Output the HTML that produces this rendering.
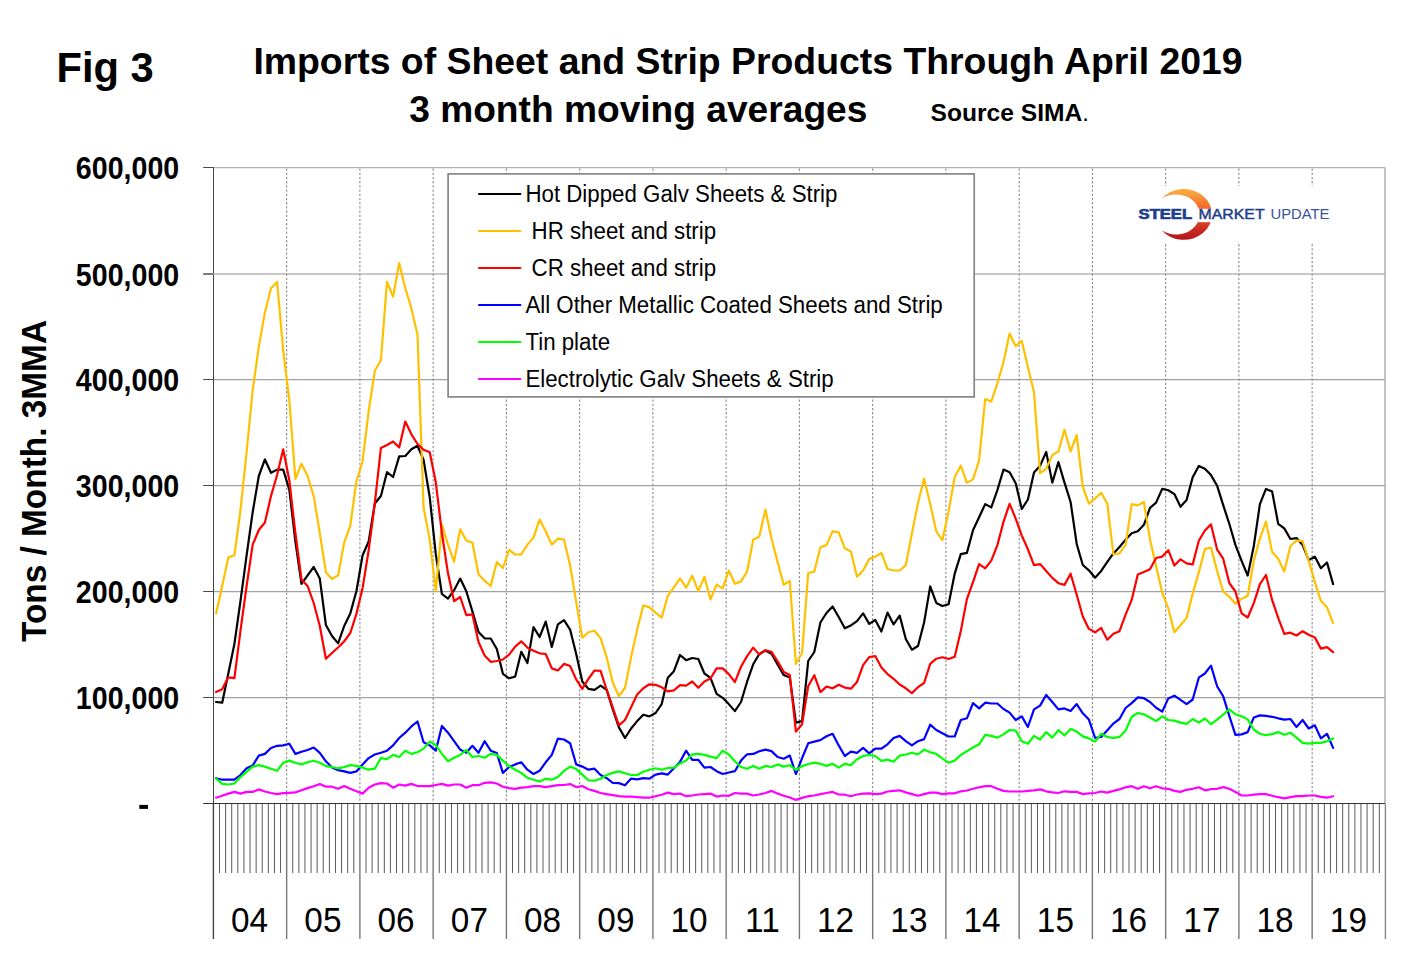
<!DOCTYPE html><html><head><meta charset="utf-8"><title>Fig 3</title><style>html,body{margin:0;padding:0;background:#fff}body{width:1420px;height:969px;overflow:hidden;font-family:"Liberation Sans",sans-serif}svg{display:block}</style></head><body>
<svg width="1420" height="969" viewBox="0 0 1420 969">
<rect width="1420" height="969" fill="#fff"/>
<line x1="213.0" y1="167.5" x2="1385.0" y2="167.5" stroke="#b2b2b2" stroke-width="1.25"/>
<line x1="213.0" y1="274.0" x2="1385.0" y2="274.0" stroke="#c8c8c8" stroke-width="2"/>
<line x1="213.0" y1="379.5" x2="1385.0" y2="379.5" stroke="#a2a2a2" stroke-width="1.25"/>
<line x1="213.0" y1="485.5" x2="1385.0" y2="485.5" stroke="#a2a2a2" stroke-width="1.25"/>
<line x1="213.0" y1="591.5" x2="1385.0" y2="591.5" stroke="#a2a2a2" stroke-width="1.25"/>
<line x1="213.0" y1="697.5" x2="1385.0" y2="697.5" stroke="#a2a2a2" stroke-width="1.25"/>
<line x1="286.65" y1="168.5" x2="286.65" y2="803.5" stroke="#858585" stroke-width="1.05" stroke-dasharray="2.3 1.9"/>
<line x1="359.90" y1="168.5" x2="359.90" y2="803.5" stroke="#858585" stroke-width="1.05" stroke-dasharray="2.3 1.9"/>
<line x1="433.15" y1="168.5" x2="433.15" y2="803.5" stroke="#858585" stroke-width="1.05" stroke-dasharray="2.3 1.9"/>
<line x1="506.40" y1="168.5" x2="506.40" y2="803.5" stroke="#858585" stroke-width="1.05" stroke-dasharray="2.3 1.9"/>
<line x1="579.65" y1="168.5" x2="579.65" y2="803.5" stroke="#858585" stroke-width="1.05" stroke-dasharray="2.3 1.9"/>
<line x1="652.90" y1="168.5" x2="652.90" y2="803.5" stroke="#858585" stroke-width="1.05" stroke-dasharray="2.3 1.9"/>
<line x1="726.15" y1="168.5" x2="726.15" y2="803.5" stroke="#858585" stroke-width="1.05" stroke-dasharray="2.3 1.9"/>
<line x1="799.40" y1="168.5" x2="799.40" y2="803.5" stroke="#858585" stroke-width="1.05" stroke-dasharray="2.3 1.9"/>
<line x1="872.65" y1="168.5" x2="872.65" y2="803.5" stroke="#858585" stroke-width="1.05" stroke-dasharray="2.3 1.9"/>
<line x1="945.90" y1="168.5" x2="945.90" y2="803.5" stroke="#858585" stroke-width="1.05" stroke-dasharray="2.3 1.9"/>
<line x1="1019.15" y1="168.5" x2="1019.15" y2="803.5" stroke="#858585" stroke-width="1.05" stroke-dasharray="2.3 1.9"/>
<line x1="1092.40" y1="168.5" x2="1092.40" y2="803.5" stroke="#858585" stroke-width="1.05" stroke-dasharray="2.3 1.9"/>
<line x1="1165.65" y1="168.5" x2="1165.65" y2="803.5" stroke="#858585" stroke-width="1.05" stroke-dasharray="2.3 1.9"/>
<line x1="1238.90" y1="168.5" x2="1238.90" y2="803.5" stroke="#858585" stroke-width="1.05" stroke-dasharray="2.3 1.9"/>
<line x1="1312.15" y1="168.5" x2="1312.15" y2="803.5" stroke="#858585" stroke-width="1.05" stroke-dasharray="2.3 1.9"/>
<line x1="1385.0" y1="167.5" x2="1385.0" y2="803.5" stroke="#b4b4b4" stroke-width="1.6"/>
<line x1="219.50" y1="803.5" x2="219.50" y2="873" stroke="#5a5a5a" stroke-width="1"/>
<line x1="225.61" y1="803.5" x2="225.61" y2="873" stroke="#5a5a5a" stroke-width="1"/>
<line x1="231.71" y1="803.5" x2="231.71" y2="873" stroke="#5a5a5a" stroke-width="1"/>
<line x1="237.82" y1="803.5" x2="237.82" y2="873" stroke="#5a5a5a" stroke-width="1"/>
<line x1="243.92" y1="803.5" x2="243.92" y2="873" stroke="#5a5a5a" stroke-width="1"/>
<line x1="250.03" y1="803.5" x2="250.03" y2="873" stroke="#5a5a5a" stroke-width="1"/>
<line x1="256.13" y1="803.5" x2="256.13" y2="873" stroke="#5a5a5a" stroke-width="1"/>
<line x1="262.23" y1="803.5" x2="262.23" y2="873" stroke="#5a5a5a" stroke-width="1"/>
<line x1="268.34" y1="803.5" x2="268.34" y2="873" stroke="#5a5a5a" stroke-width="1"/>
<line x1="274.44" y1="803.5" x2="274.44" y2="873" stroke="#5a5a5a" stroke-width="1"/>
<line x1="280.55" y1="803.5" x2="280.55" y2="873" stroke="#5a5a5a" stroke-width="1"/>
<line x1="292.75" y1="803.5" x2="292.75" y2="873" stroke="#5a5a5a" stroke-width="1"/>
<line x1="298.86" y1="803.5" x2="298.86" y2="873" stroke="#5a5a5a" stroke-width="1"/>
<line x1="304.96" y1="803.5" x2="304.96" y2="873" stroke="#5a5a5a" stroke-width="1"/>
<line x1="311.07" y1="803.5" x2="311.07" y2="873" stroke="#5a5a5a" stroke-width="1"/>
<line x1="317.17" y1="803.5" x2="317.17" y2="873" stroke="#5a5a5a" stroke-width="1"/>
<line x1="323.27" y1="803.5" x2="323.27" y2="873" stroke="#5a5a5a" stroke-width="1"/>
<line x1="329.38" y1="803.5" x2="329.38" y2="873" stroke="#5a5a5a" stroke-width="1"/>
<line x1="335.48" y1="803.5" x2="335.48" y2="873" stroke="#5a5a5a" stroke-width="1"/>
<line x1="341.59" y1="803.5" x2="341.59" y2="873" stroke="#5a5a5a" stroke-width="1"/>
<line x1="347.69" y1="803.5" x2="347.69" y2="873" stroke="#5a5a5a" stroke-width="1"/>
<line x1="353.80" y1="803.5" x2="353.80" y2="873" stroke="#5a5a5a" stroke-width="1"/>
<line x1="366.00" y1="803.5" x2="366.00" y2="873" stroke="#5a5a5a" stroke-width="1"/>
<line x1="372.11" y1="803.5" x2="372.11" y2="873" stroke="#5a5a5a" stroke-width="1"/>
<line x1="378.21" y1="803.5" x2="378.21" y2="873" stroke="#5a5a5a" stroke-width="1"/>
<line x1="384.32" y1="803.5" x2="384.32" y2="873" stroke="#5a5a5a" stroke-width="1"/>
<line x1="390.42" y1="803.5" x2="390.42" y2="873" stroke="#5a5a5a" stroke-width="1"/>
<line x1="396.52" y1="803.5" x2="396.52" y2="873" stroke="#5a5a5a" stroke-width="1"/>
<line x1="402.63" y1="803.5" x2="402.63" y2="873" stroke="#5a5a5a" stroke-width="1"/>
<line x1="408.73" y1="803.5" x2="408.73" y2="873" stroke="#5a5a5a" stroke-width="1"/>
<line x1="414.84" y1="803.5" x2="414.84" y2="873" stroke="#5a5a5a" stroke-width="1"/>
<line x1="420.94" y1="803.5" x2="420.94" y2="873" stroke="#5a5a5a" stroke-width="1"/>
<line x1="427.05" y1="803.5" x2="427.05" y2="873" stroke="#5a5a5a" stroke-width="1"/>
<line x1="439.25" y1="803.5" x2="439.25" y2="873" stroke="#5a5a5a" stroke-width="1"/>
<line x1="445.36" y1="803.5" x2="445.36" y2="873" stroke="#5a5a5a" stroke-width="1"/>
<line x1="451.46" y1="803.5" x2="451.46" y2="873" stroke="#5a5a5a" stroke-width="1"/>
<line x1="457.57" y1="803.5" x2="457.57" y2="873" stroke="#5a5a5a" stroke-width="1"/>
<line x1="463.67" y1="803.5" x2="463.67" y2="873" stroke="#5a5a5a" stroke-width="1"/>
<line x1="469.77" y1="803.5" x2="469.77" y2="873" stroke="#5a5a5a" stroke-width="1"/>
<line x1="475.88" y1="803.5" x2="475.88" y2="873" stroke="#5a5a5a" stroke-width="1"/>
<line x1="481.98" y1="803.5" x2="481.98" y2="873" stroke="#5a5a5a" stroke-width="1"/>
<line x1="488.09" y1="803.5" x2="488.09" y2="873" stroke="#5a5a5a" stroke-width="1"/>
<line x1="494.19" y1="803.5" x2="494.19" y2="873" stroke="#5a5a5a" stroke-width="1"/>
<line x1="500.30" y1="803.5" x2="500.30" y2="873" stroke="#5a5a5a" stroke-width="1"/>
<line x1="512.50" y1="803.5" x2="512.50" y2="873" stroke="#5a5a5a" stroke-width="1"/>
<line x1="518.61" y1="803.5" x2="518.61" y2="873" stroke="#5a5a5a" stroke-width="1"/>
<line x1="524.71" y1="803.5" x2="524.71" y2="873" stroke="#5a5a5a" stroke-width="1"/>
<line x1="530.82" y1="803.5" x2="530.82" y2="873" stroke="#5a5a5a" stroke-width="1"/>
<line x1="536.92" y1="803.5" x2="536.92" y2="873" stroke="#5a5a5a" stroke-width="1"/>
<line x1="543.02" y1="803.5" x2="543.02" y2="873" stroke="#5a5a5a" stroke-width="1"/>
<line x1="549.13" y1="803.5" x2="549.13" y2="873" stroke="#5a5a5a" stroke-width="1"/>
<line x1="555.23" y1="803.5" x2="555.23" y2="873" stroke="#5a5a5a" stroke-width="1"/>
<line x1="561.34" y1="803.5" x2="561.34" y2="873" stroke="#5a5a5a" stroke-width="1"/>
<line x1="567.44" y1="803.5" x2="567.44" y2="873" stroke="#5a5a5a" stroke-width="1"/>
<line x1="573.55" y1="803.5" x2="573.55" y2="873" stroke="#5a5a5a" stroke-width="1"/>
<line x1="585.75" y1="803.5" x2="585.75" y2="873" stroke="#5a5a5a" stroke-width="1"/>
<line x1="591.86" y1="803.5" x2="591.86" y2="873" stroke="#5a5a5a" stroke-width="1"/>
<line x1="597.96" y1="803.5" x2="597.96" y2="873" stroke="#5a5a5a" stroke-width="1"/>
<line x1="604.07" y1="803.5" x2="604.07" y2="873" stroke="#5a5a5a" stroke-width="1"/>
<line x1="610.17" y1="803.5" x2="610.17" y2="873" stroke="#5a5a5a" stroke-width="1"/>
<line x1="616.27" y1="803.5" x2="616.27" y2="873" stroke="#5a5a5a" stroke-width="1"/>
<line x1="622.38" y1="803.5" x2="622.38" y2="873" stroke="#5a5a5a" stroke-width="1"/>
<line x1="628.48" y1="803.5" x2="628.48" y2="873" stroke="#5a5a5a" stroke-width="1"/>
<line x1="634.59" y1="803.5" x2="634.59" y2="873" stroke="#5a5a5a" stroke-width="1"/>
<line x1="640.69" y1="803.5" x2="640.69" y2="873" stroke="#5a5a5a" stroke-width="1"/>
<line x1="646.80" y1="803.5" x2="646.80" y2="873" stroke="#5a5a5a" stroke-width="1"/>
<line x1="659.00" y1="803.5" x2="659.00" y2="873" stroke="#5a5a5a" stroke-width="1"/>
<line x1="665.11" y1="803.5" x2="665.11" y2="873" stroke="#5a5a5a" stroke-width="1"/>
<line x1="671.21" y1="803.5" x2="671.21" y2="873" stroke="#5a5a5a" stroke-width="1"/>
<line x1="677.32" y1="803.5" x2="677.32" y2="873" stroke="#5a5a5a" stroke-width="1"/>
<line x1="683.42" y1="803.5" x2="683.42" y2="873" stroke="#5a5a5a" stroke-width="1"/>
<line x1="689.52" y1="803.5" x2="689.52" y2="873" stroke="#5a5a5a" stroke-width="1"/>
<line x1="695.63" y1="803.5" x2="695.63" y2="873" stroke="#5a5a5a" stroke-width="1"/>
<line x1="701.73" y1="803.5" x2="701.73" y2="873" stroke="#5a5a5a" stroke-width="1"/>
<line x1="707.84" y1="803.5" x2="707.84" y2="873" stroke="#5a5a5a" stroke-width="1"/>
<line x1="713.94" y1="803.5" x2="713.94" y2="873" stroke="#5a5a5a" stroke-width="1"/>
<line x1="720.05" y1="803.5" x2="720.05" y2="873" stroke="#5a5a5a" stroke-width="1"/>
<line x1="732.25" y1="803.5" x2="732.25" y2="873" stroke="#5a5a5a" stroke-width="1"/>
<line x1="738.36" y1="803.5" x2="738.36" y2="873" stroke="#5a5a5a" stroke-width="1"/>
<line x1="744.46" y1="803.5" x2="744.46" y2="873" stroke="#5a5a5a" stroke-width="1"/>
<line x1="750.57" y1="803.5" x2="750.57" y2="873" stroke="#5a5a5a" stroke-width="1"/>
<line x1="756.67" y1="803.5" x2="756.67" y2="873" stroke="#5a5a5a" stroke-width="1"/>
<line x1="762.77" y1="803.5" x2="762.77" y2="873" stroke="#5a5a5a" stroke-width="1"/>
<line x1="768.88" y1="803.5" x2="768.88" y2="873" stroke="#5a5a5a" stroke-width="1"/>
<line x1="774.98" y1="803.5" x2="774.98" y2="873" stroke="#5a5a5a" stroke-width="1"/>
<line x1="781.09" y1="803.5" x2="781.09" y2="873" stroke="#5a5a5a" stroke-width="1"/>
<line x1="787.19" y1="803.5" x2="787.19" y2="873" stroke="#5a5a5a" stroke-width="1"/>
<line x1="793.30" y1="803.5" x2="793.30" y2="873" stroke="#5a5a5a" stroke-width="1"/>
<line x1="805.50" y1="803.5" x2="805.50" y2="873" stroke="#5a5a5a" stroke-width="1"/>
<line x1="811.61" y1="803.5" x2="811.61" y2="873" stroke="#5a5a5a" stroke-width="1"/>
<line x1="817.71" y1="803.5" x2="817.71" y2="873" stroke="#5a5a5a" stroke-width="1"/>
<line x1="823.82" y1="803.5" x2="823.82" y2="873" stroke="#5a5a5a" stroke-width="1"/>
<line x1="829.92" y1="803.5" x2="829.92" y2="873" stroke="#5a5a5a" stroke-width="1"/>
<line x1="836.02" y1="803.5" x2="836.02" y2="873" stroke="#5a5a5a" stroke-width="1"/>
<line x1="842.13" y1="803.5" x2="842.13" y2="873" stroke="#5a5a5a" stroke-width="1"/>
<line x1="848.23" y1="803.5" x2="848.23" y2="873" stroke="#5a5a5a" stroke-width="1"/>
<line x1="854.34" y1="803.5" x2="854.34" y2="873" stroke="#5a5a5a" stroke-width="1"/>
<line x1="860.44" y1="803.5" x2="860.44" y2="873" stroke="#5a5a5a" stroke-width="1"/>
<line x1="866.55" y1="803.5" x2="866.55" y2="873" stroke="#5a5a5a" stroke-width="1"/>
<line x1="878.75" y1="803.5" x2="878.75" y2="873" stroke="#5a5a5a" stroke-width="1"/>
<line x1="884.86" y1="803.5" x2="884.86" y2="873" stroke="#5a5a5a" stroke-width="1"/>
<line x1="890.96" y1="803.5" x2="890.96" y2="873" stroke="#5a5a5a" stroke-width="1"/>
<line x1="897.07" y1="803.5" x2="897.07" y2="873" stroke="#5a5a5a" stroke-width="1"/>
<line x1="903.17" y1="803.5" x2="903.17" y2="873" stroke="#5a5a5a" stroke-width="1"/>
<line x1="909.27" y1="803.5" x2="909.27" y2="873" stroke="#5a5a5a" stroke-width="1"/>
<line x1="915.38" y1="803.5" x2="915.38" y2="873" stroke="#5a5a5a" stroke-width="1"/>
<line x1="921.48" y1="803.5" x2="921.48" y2="873" stroke="#5a5a5a" stroke-width="1"/>
<line x1="927.59" y1="803.5" x2="927.59" y2="873" stroke="#5a5a5a" stroke-width="1"/>
<line x1="933.69" y1="803.5" x2="933.69" y2="873" stroke="#5a5a5a" stroke-width="1"/>
<line x1="939.80" y1="803.5" x2="939.80" y2="873" stroke="#5a5a5a" stroke-width="1"/>
<line x1="952.00" y1="803.5" x2="952.00" y2="873" stroke="#5a5a5a" stroke-width="1"/>
<line x1="958.11" y1="803.5" x2="958.11" y2="873" stroke="#5a5a5a" stroke-width="1"/>
<line x1="964.21" y1="803.5" x2="964.21" y2="873" stroke="#5a5a5a" stroke-width="1"/>
<line x1="970.32" y1="803.5" x2="970.32" y2="873" stroke="#5a5a5a" stroke-width="1"/>
<line x1="976.42" y1="803.5" x2="976.42" y2="873" stroke="#5a5a5a" stroke-width="1"/>
<line x1="982.52" y1="803.5" x2="982.52" y2="873" stroke="#5a5a5a" stroke-width="1"/>
<line x1="988.63" y1="803.5" x2="988.63" y2="873" stroke="#5a5a5a" stroke-width="1"/>
<line x1="994.73" y1="803.5" x2="994.73" y2="873" stroke="#5a5a5a" stroke-width="1"/>
<line x1="1000.84" y1="803.5" x2="1000.84" y2="873" stroke="#5a5a5a" stroke-width="1"/>
<line x1="1006.94" y1="803.5" x2="1006.94" y2="873" stroke="#5a5a5a" stroke-width="1"/>
<line x1="1013.05" y1="803.5" x2="1013.05" y2="873" stroke="#5a5a5a" stroke-width="1"/>
<line x1="1025.25" y1="803.5" x2="1025.25" y2="873" stroke="#5a5a5a" stroke-width="1"/>
<line x1="1031.36" y1="803.5" x2="1031.36" y2="873" stroke="#5a5a5a" stroke-width="1"/>
<line x1="1037.46" y1="803.5" x2="1037.46" y2="873" stroke="#5a5a5a" stroke-width="1"/>
<line x1="1043.57" y1="803.5" x2="1043.57" y2="873" stroke="#5a5a5a" stroke-width="1"/>
<line x1="1049.67" y1="803.5" x2="1049.67" y2="873" stroke="#5a5a5a" stroke-width="1"/>
<line x1="1055.78" y1="803.5" x2="1055.78" y2="873" stroke="#5a5a5a" stroke-width="1"/>
<line x1="1061.88" y1="803.5" x2="1061.88" y2="873" stroke="#5a5a5a" stroke-width="1"/>
<line x1="1067.98" y1="803.5" x2="1067.98" y2="873" stroke="#5a5a5a" stroke-width="1"/>
<line x1="1074.09" y1="803.5" x2="1074.09" y2="873" stroke="#5a5a5a" stroke-width="1"/>
<line x1="1080.19" y1="803.5" x2="1080.19" y2="873" stroke="#5a5a5a" stroke-width="1"/>
<line x1="1086.30" y1="803.5" x2="1086.30" y2="873" stroke="#5a5a5a" stroke-width="1"/>
<line x1="1098.50" y1="803.5" x2="1098.50" y2="873" stroke="#5a5a5a" stroke-width="1"/>
<line x1="1104.61" y1="803.5" x2="1104.61" y2="873" stroke="#5a5a5a" stroke-width="1"/>
<line x1="1110.71" y1="803.5" x2="1110.71" y2="873" stroke="#5a5a5a" stroke-width="1"/>
<line x1="1116.82" y1="803.5" x2="1116.82" y2="873" stroke="#5a5a5a" stroke-width="1"/>
<line x1="1122.92" y1="803.5" x2="1122.92" y2="873" stroke="#5a5a5a" stroke-width="1"/>
<line x1="1129.03" y1="803.5" x2="1129.03" y2="873" stroke="#5a5a5a" stroke-width="1"/>
<line x1="1135.13" y1="803.5" x2="1135.13" y2="873" stroke="#5a5a5a" stroke-width="1"/>
<line x1="1141.23" y1="803.5" x2="1141.23" y2="873" stroke="#5a5a5a" stroke-width="1"/>
<line x1="1147.34" y1="803.5" x2="1147.34" y2="873" stroke="#5a5a5a" stroke-width="1"/>
<line x1="1153.44" y1="803.5" x2="1153.44" y2="873" stroke="#5a5a5a" stroke-width="1"/>
<line x1="1159.55" y1="803.5" x2="1159.55" y2="873" stroke="#5a5a5a" stroke-width="1"/>
<line x1="1171.75" y1="803.5" x2="1171.75" y2="873" stroke="#5a5a5a" stroke-width="1"/>
<line x1="1177.86" y1="803.5" x2="1177.86" y2="873" stroke="#5a5a5a" stroke-width="1"/>
<line x1="1183.96" y1="803.5" x2="1183.96" y2="873" stroke="#5a5a5a" stroke-width="1"/>
<line x1="1190.07" y1="803.5" x2="1190.07" y2="873" stroke="#5a5a5a" stroke-width="1"/>
<line x1="1196.17" y1="803.5" x2="1196.17" y2="873" stroke="#5a5a5a" stroke-width="1"/>
<line x1="1202.28" y1="803.5" x2="1202.28" y2="873" stroke="#5a5a5a" stroke-width="1"/>
<line x1="1208.38" y1="803.5" x2="1208.38" y2="873" stroke="#5a5a5a" stroke-width="1"/>
<line x1="1214.48" y1="803.5" x2="1214.48" y2="873" stroke="#5a5a5a" stroke-width="1"/>
<line x1="1220.59" y1="803.5" x2="1220.59" y2="873" stroke="#5a5a5a" stroke-width="1"/>
<line x1="1226.69" y1="803.5" x2="1226.69" y2="873" stroke="#5a5a5a" stroke-width="1"/>
<line x1="1232.80" y1="803.5" x2="1232.80" y2="873" stroke="#5a5a5a" stroke-width="1"/>
<line x1="1245.00" y1="803.5" x2="1245.00" y2="873" stroke="#5a5a5a" stroke-width="1"/>
<line x1="1251.11" y1="803.5" x2="1251.11" y2="873" stroke="#5a5a5a" stroke-width="1"/>
<line x1="1257.21" y1="803.5" x2="1257.21" y2="873" stroke="#5a5a5a" stroke-width="1"/>
<line x1="1263.32" y1="803.5" x2="1263.32" y2="873" stroke="#5a5a5a" stroke-width="1"/>
<line x1="1269.42" y1="803.5" x2="1269.42" y2="873" stroke="#5a5a5a" stroke-width="1"/>
<line x1="1275.53" y1="803.5" x2="1275.53" y2="873" stroke="#5a5a5a" stroke-width="1"/>
<line x1="1281.63" y1="803.5" x2="1281.63" y2="873" stroke="#5a5a5a" stroke-width="1"/>
<line x1="1287.73" y1="803.5" x2="1287.73" y2="873" stroke="#5a5a5a" stroke-width="1"/>
<line x1="1293.84" y1="803.5" x2="1293.84" y2="873" stroke="#5a5a5a" stroke-width="1"/>
<line x1="1299.94" y1="803.5" x2="1299.94" y2="873" stroke="#5a5a5a" stroke-width="1"/>
<line x1="1306.05" y1="803.5" x2="1306.05" y2="873" stroke="#5a5a5a" stroke-width="1"/>
<line x1="1318.25" y1="803.5" x2="1318.25" y2="873" stroke="#5a5a5a" stroke-width="1"/>
<line x1="1324.36" y1="803.5" x2="1324.36" y2="873" stroke="#5a5a5a" stroke-width="1"/>
<line x1="1330.46" y1="803.5" x2="1330.46" y2="873" stroke="#5a5a5a" stroke-width="1"/>
<line x1="1336.57" y1="803.5" x2="1336.57" y2="873" stroke="#5a5a5a" stroke-width="1"/>
<line x1="1342.67" y1="803.5" x2="1342.67" y2="873" stroke="#5a5a5a" stroke-width="1"/>
<line x1="1348.78" y1="803.5" x2="1348.78" y2="873" stroke="#5a5a5a" stroke-width="1"/>
<line x1="1354.88" y1="803.5" x2="1354.88" y2="873" stroke="#5a5a5a" stroke-width="1"/>
<line x1="1360.98" y1="803.5" x2="1360.98" y2="873" stroke="#5a5a5a" stroke-width="1"/>
<line x1="1367.09" y1="803.5" x2="1367.09" y2="873" stroke="#5a5a5a" stroke-width="1"/>
<line x1="1373.19" y1="803.5" x2="1373.19" y2="873" stroke="#5a5a5a" stroke-width="1"/>
<line x1="1379.30" y1="803.5" x2="1379.30" y2="873" stroke="#5a5a5a" stroke-width="1"/>
<line x1="213.40" y1="803.5" x2="213.40" y2="939" stroke="#444" stroke-width="1.4"/>
<line x1="286.65" y1="803.5" x2="286.65" y2="939" stroke="#777" stroke-width="1.4"/>
<line x1="359.90" y1="803.5" x2="359.90" y2="939" stroke="#777" stroke-width="1.4"/>
<line x1="433.15" y1="803.5" x2="433.15" y2="939" stroke="#777" stroke-width="1.4"/>
<line x1="506.40" y1="803.5" x2="506.40" y2="939" stroke="#777" stroke-width="1.4"/>
<line x1="579.65" y1="803.5" x2="579.65" y2="939" stroke="#777" stroke-width="1.4"/>
<line x1="652.90" y1="803.5" x2="652.90" y2="939" stroke="#777" stroke-width="1.4"/>
<line x1="726.15" y1="803.5" x2="726.15" y2="939" stroke="#777" stroke-width="1.4"/>
<line x1="799.40" y1="803.5" x2="799.40" y2="939" stroke="#777" stroke-width="1.4"/>
<line x1="872.65" y1="803.5" x2="872.65" y2="939" stroke="#777" stroke-width="1.4"/>
<line x1="945.90" y1="803.5" x2="945.90" y2="939" stroke="#777" stroke-width="1.4"/>
<line x1="1019.15" y1="803.5" x2="1019.15" y2="939" stroke="#777" stroke-width="1.4"/>
<line x1="1092.40" y1="803.5" x2="1092.40" y2="939" stroke="#777" stroke-width="1.4"/>
<line x1="1165.65" y1="803.5" x2="1165.65" y2="939" stroke="#777" stroke-width="1.4"/>
<line x1="1238.90" y1="803.5" x2="1238.90" y2="939" stroke="#777" stroke-width="1.4"/>
<line x1="1312.15" y1="803.5" x2="1312.15" y2="939" stroke="#777" stroke-width="1.4"/>
<line x1="1385.40" y1="803.5" x2="1385.40" y2="939" stroke="#888" stroke-width="1.4"/>
<rect x="1132" y="186" width="205" height="56" fill="#fff"/>
<polyline points="216.1,702.0 222.2,702.7 228.3,673.5 234.4,644.0 240.5,600.8 246.6,555.3 252.7,512.0 258.8,476.0 264.9,459.5 271.0,472.8 277.1,469.6 283.2,469.6 289.3,489.7 295.4,541.5 301.5,583.9 307.6,575.4 313.7,567.0 319.8,578.6 325.9,625.0 332.0,636.0 338.1,643.4 344.2,626.0 350.3,613.4 356.4,591.3 362.6,555.3 368.7,541.5 374.8,503.5 380.9,496.0 387.0,472.2 393.1,477.0 399.2,456.4 405.3,456.0 411.4,449.3 417.5,445.7 423.6,460.0 429.7,497.0 435.8,554.2 441.9,594.0 448.0,598.7 454.1,590.2 460.2,578.6 466.3,591.3 472.4,611.4 478.5,632.0 484.6,638.3 490.7,638.5 496.8,649.0 502.9,673.8 509.1,678.3 515.2,676.6 521.3,651.8 527.4,663.0 533.5,627.1 539.6,637.0 545.7,621.6 551.8,647.0 557.9,624.3 564.0,620.1 570.1,629.6 576.2,654.0 582.3,681.5 588.4,688.9 594.5,689.9 600.6,685.6 606.7,689.8 612.8,709.4 618.9,727.4 625.0,738.0 631.1,728.5 637.2,721.1 643.3,714.7 649.4,716.4 655.6,713.0 661.7,704.1 667.8,677.8 673.9,671.2 680.0,655.0 686.1,660.2 692.2,658.0 698.3,659.0 704.4,673.5 710.5,677.8 716.6,693.8 722.7,697.8 728.8,704.1 734.9,711.1 741.0,702.0 747.1,681.7 753.2,664.3 759.3,654.0 765.4,650.5 771.5,653.7 777.6,664.5 783.7,675.1 789.8,677.6 795.9,722.6 802.1,721.1 808.2,661.0 814.3,652.0 820.4,622.5 826.5,613.0 832.6,606.5 838.7,617.0 844.8,628.3 850.9,625.4 857.0,621.2 863.1,613.3 869.2,623.9 875.3,620.0 881.4,631.5 887.5,612.6 893.6,624.4 899.7,615.6 905.8,639.0 911.9,649.7 918.0,646.0 924.1,622.5 930.2,586.4 936.3,602.9 942.4,606.0 948.6,604.3 954.7,573.7 960.8,554.2 966.9,552.9 973.0,530.3 979.1,517.2 985.2,504.1 991.3,507.4 997.4,490.0 1003.5,469.6 1009.6,472.2 1015.7,483.2 1021.8,509.0 1027.9,499.5 1034.0,472.6 1040.1,465.7 1046.2,451.9 1052.3,482.6 1058.4,462.1 1064.5,482.6 1070.6,502.0 1076.7,544.0 1082.8,565.0 1088.9,570.3 1095.1,577.7 1101.2,570.9 1107.3,561.8 1113.4,553.4 1119.5,547.0 1125.6,539.6 1131.7,533.3 1137.8,531.2 1143.9,524.8 1150.0,507.9 1156.1,502.6 1162.2,488.9 1168.3,490.3 1174.4,494.1 1180.5,506.8 1186.6,499.9 1192.7,477.2 1198.8,466.0 1204.9,468.8 1211.0,475.1 1217.1,485.7 1223.2,505.1 1229.3,523.8 1235.4,544.9 1241.6,560.8 1247.7,575.6 1253.8,546.0 1259.9,504.1 1266.0,488.9 1272.1,491.4 1278.2,523.8 1284.3,528.4 1290.4,539.0 1296.5,538.1 1302.6,544.9 1308.7,560.1 1314.8,556.6 1320.9,568.2 1327.0,562.5 1333.1,584.1" fill="none" stroke="#000000" stroke-width="2.2" stroke-linejoin="round" stroke-linecap="round"/>
<polyline points="216.1,613.5 222.2,586.0 228.3,557.4 234.4,555.3 240.5,510.0 246.6,452.0 252.7,390.0 258.8,346.5 264.9,312.6 271.0,288.3 277.1,281.9 283.2,350.5 289.3,400.0 295.4,479.0 301.5,463.7 307.6,476.0 313.7,496.0 319.8,533.0 325.9,572.2 332.0,579.0 338.1,575.4 344.2,542.6 350.3,525.7 356.4,481.3 362.6,461.2 368.7,411.0 374.8,370.8 380.9,360.2 387.0,281.9 393.1,296.7 399.2,263.0 405.3,288.3 411.4,308.4 417.5,334.8 423.6,507.7 429.7,539.4 435.8,591.3 441.9,524.6 448.0,544.7 454.1,561.6 460.2,529.3 466.3,540.5 472.4,542.6 478.5,574.3 484.6,580.7 490.7,586.0 496.8,562.0 502.9,568.0 509.1,549.9 515.2,554.5 521.3,554.5 527.4,544.6 533.5,537.6 539.6,519.6 545.7,531.3 551.8,544.6 557.9,538.7 564.0,539.7 570.1,565.1 576.2,602.1 582.3,637.7 588.4,632.2 594.5,630.7 600.6,638.1 606.7,657.5 612.8,682.7 618.9,696.0 625.0,688.0 631.1,657.1 637.2,629.6 643.3,605.3 649.4,607.4 655.6,612.7 661.7,617.6 667.8,595.8 673.9,587.3 680.0,578.4 686.1,587.7 692.2,575.7 698.3,591.1 704.4,576.7 710.5,599.4 716.6,584.6 722.7,588.4 728.8,570.4 734.9,583.7 741.0,581.4 747.1,571.5 753.2,539.7 759.3,536.5 765.4,509.5 771.5,538.7 777.6,561.9 783.7,584.8 789.8,581.0 795.9,663.8 802.1,653.2 808.2,573.0 814.3,571.6 820.4,547.2 826.5,545.1 832.6,531.4 838.7,532.4 844.8,548.3 850.9,551.5 857.0,576.8 863.1,570.5 869.2,558.9 875.3,556.7 881.4,552.9 887.5,569.0 893.6,570.5 899.7,570.5 905.8,565.2 911.9,533.5 918.0,503.0 924.1,478.5 930.2,504.0 936.3,531.4 942.4,540.2 948.6,511.3 954.7,477.0 960.8,465.7 966.9,482.6 973.0,479.4 979.1,460.4 985.2,399.0 991.3,401.6 997.4,383.2 1003.5,362.0 1009.6,333.5 1015.7,346.2 1021.8,340.9 1027.9,367.3 1034.0,392.3 1040.1,473.1 1046.2,468.9 1052.3,455.1 1058.4,451.5 1064.5,429.7 1070.6,451.5 1076.7,435.0 1082.8,487.0 1088.9,503.7 1095.1,498.4 1101.2,492.7 1107.3,503.7 1113.4,554.4 1119.5,553.4 1125.6,544.9 1131.7,504.1 1137.8,505.4 1143.9,502.0 1150.0,539.6 1156.1,566.1 1162.2,592.5 1168.3,608.4 1174.4,632.3 1180.5,625.3 1186.6,617.9 1192.7,593.6 1198.8,572.4 1204.9,549.1 1211.0,547.5 1217.1,570.9 1223.2,591.5 1229.3,596.7 1235.4,603.7 1241.6,598.9 1247.7,595.7 1253.8,560.8 1259.9,538.6 1266.0,521.6 1272.1,551.9 1278.2,558.7 1284.3,571.4 1290.4,546.0 1296.5,540.7 1302.6,541.1 1308.7,560.8 1314.8,581.9 1320.9,601.0 1327.0,607.3 1333.1,623.2" fill="none" stroke="#FFC000" stroke-width="2.2" stroke-linejoin="round" stroke-linecap="round"/>
<polyline points="216.1,692.1 222.2,689.3 228.3,677.3 234.4,678.1 240.5,630.6 246.6,586.0 252.7,544.7 258.8,530.0 264.9,522.5 271.0,496.0 277.1,475.0 283.2,449.3 289.3,480.2 295.4,533.0 301.5,579.6 307.6,586.0 313.7,603.0 319.8,626.0 325.9,658.7 332.0,653.0 338.1,647.5 344.2,641.4 350.3,633.0 356.4,613.8 362.6,588.0 368.7,550.0 374.8,503.5 380.9,448.0 387.0,445.0 393.1,441.5 399.2,447.4 405.3,421.6 411.4,434.3 417.5,444.0 423.6,449.7 429.7,452.3 435.8,482.3 441.9,533.0 448.0,573.3 454.1,601.2 460.2,597.0 466.3,615.2 472.4,614.4 478.5,642.0 484.6,655.5 490.7,661.8 496.8,661.0 502.9,659.5 509.1,654.6 515.2,646.6 521.3,641.3 527.4,647.6 533.5,650.8 539.6,653.3 545.7,654.0 551.8,668.4 557.9,670.5 564.0,663.9 570.1,666.0 576.2,679.4 582.3,688.9 588.4,678.9 594.5,670.5 600.6,670.9 606.7,690.0 612.8,707.7 618.9,725.3 625.0,720.0 631.1,707.3 637.2,694.4 643.3,688.2 649.4,684.3 655.6,684.8 661.7,687.3 667.8,691.4 673.9,690.4 680.0,685.1 686.1,685.7 692.2,681.5 698.3,687.8 704.4,681.5 710.5,678.5 716.6,668.4 722.7,668.4 728.8,674.1 734.9,682.1 741.0,666.7 747.1,656.1 753.2,647.6 759.3,654.6 765.4,650.2 771.5,651.8 777.6,661.4 783.7,671.9 789.8,675.0 795.9,731.6 802.1,724.2 808.2,686.2 814.3,675.2 820.4,692.1 826.5,686.6 832.6,688.3 838.7,684.7 844.8,687.6 850.9,688.7 857.0,681.9 863.1,665.1 869.2,657.1 875.3,656.0 881.4,667.4 887.5,674.1 893.6,678.8 899.7,684.5 905.8,688.3 911.9,693.1 918.0,687.2 924.1,683.0 930.2,663.8 936.3,658.7 942.4,657.2 948.6,659.0 954.7,656.8 960.8,631.0 966.9,599.1 973.0,582.1 979.1,564.1 985.2,568.4 991.3,560.6 997.4,545.1 1003.5,521.8 1009.6,503.8 1015.7,518.7 1021.8,535.6 1027.9,549.3 1034.0,565.2 1040.1,564.1 1046.2,570.9 1052.3,577.9 1058.4,583.2 1064.5,584.9 1070.6,573.7 1076.7,594.7 1082.8,616.5 1088.9,628.9 1095.1,632.3 1101.2,627.9 1107.3,639.7 1113.4,633.8 1119.5,631.2 1125.6,614.7 1131.7,599.9 1137.8,574.5 1143.9,572.0 1150.0,569.2 1156.1,558.0 1162.2,556.6 1168.3,550.2 1174.4,565.6 1180.5,559.3 1186.6,563.3 1192.7,564.4 1198.8,540.7 1204.9,530.5 1211.0,524.4 1217.1,549.6 1223.2,558.7 1229.3,583.0 1235.4,591.5 1241.6,613.3 1247.7,617.5 1253.8,603.1 1259.9,584.1 1266.0,575.0 1272.1,599.9 1278.2,617.9 1284.3,633.8 1290.4,632.7 1296.5,635.5 1302.6,631.2 1308.7,634.8 1314.8,637.4 1320.9,648.6 1327.0,647.1 1333.1,652.2" fill="none" stroke="#FF0000" stroke-width="2.2" stroke-linejoin="round" stroke-linecap="round"/>
<polyline points="216.1,778.2 222.2,779.7 228.3,779.7 234.4,779.7 240.5,775.0 246.6,768.3 252.7,765.5 258.8,755.6 264.9,753.9 271.0,748.0 277.1,745.8 283.2,745.4 289.3,743.7 295.4,753.9 301.5,751.7 307.6,750.0 313.7,747.5 319.8,752.8 325.9,761.3 332.0,767.6 338.1,770.2 344.2,771.4 350.3,772.9 356.4,771.4 362.6,764.4 368.7,758.1 374.8,754.5 380.9,752.8 387.0,750.7 393.1,745.4 399.2,738.0 405.3,732.7 411.4,726.4 417.5,721.5 423.6,742.2 429.7,745.4 435.8,750.7 441.9,725.9 448.0,732.7 454.1,741.2 460.2,749.6 466.3,752.8 472.4,745.8 478.5,752.8 484.6,741.2 490.7,750.7 496.8,753.1 502.9,772.9 509.1,767.0 515.2,764.4 521.3,762.3 527.4,769.7 533.5,774.0 539.6,770.8 545.7,762.3 551.8,754.9 557.9,738.6 564.0,739.5 570.1,743.3 576.2,764.4 582.3,766.6 588.4,769.7 594.5,768.7 600.6,775.0 606.7,778.2 612.8,782.8 618.9,783.1 625.0,785.2 631.1,778.6 637.2,779.3 643.3,778.2 649.4,778.6 655.6,774.6 661.7,773.3 667.8,774.6 673.9,768.3 680.0,761.9 686.1,750.7 692.2,759.8 698.3,759.8 704.4,767.6 710.5,767.0 716.6,771.2 722.7,774.0 728.8,772.5 734.9,771.2 741.0,760.6 747.1,754.3 753.2,753.9 759.3,751.3 765.4,749.6 771.5,751.1 777.6,757.0 783.7,758.7 789.8,755.6 795.9,774.0 802.1,758.1 808.2,743.3 814.3,741.6 820.4,740.1 826.5,736.3 832.6,733.8 838.7,745.4 844.8,756.0 850.9,751.7 857.0,752.8 863.1,747.9 869.2,753.4 875.3,748.6 881.4,748.6 887.5,744.3 893.6,738.0 899.7,735.9 905.8,741.2 911.9,745.4 918.0,741.2 924.1,739.1 930.2,724.7 936.3,730.0 942.4,733.3 948.6,736.5 954.7,736.5 960.8,720.0 966.9,718.3 973.0,703.1 979.1,708.4 985.2,702.7 991.3,703.5 997.4,703.5 1003.5,709.0 1009.6,712.6 1015.7,720.0 1021.8,716.4 1027.9,727.0 1034.0,709.4 1040.1,705.6 1046.2,695.0 1052.3,702.0 1058.4,709.4 1064.5,708.4 1070.6,710.9 1076.7,704.1 1082.8,713.3 1088.9,719.6 1095.1,738.0 1101.2,736.9 1107.3,730.2 1113.4,723.6 1119.5,719.0 1125.6,708.0 1131.7,703.1 1137.8,697.4 1143.9,698.2 1150.0,702.0 1156.1,707.7 1162.2,711.6 1168.3,698.4 1174.4,695.7 1180.5,699.9 1186.6,704.1 1192.7,699.5 1198.8,677.7 1204.9,673.5 1211.0,665.6 1217.1,686.2 1223.2,696.3 1229.3,715.8 1235.4,734.8 1241.6,734.4 1247.7,732.1 1253.8,717.5 1259.9,715.4 1266.0,715.8 1272.1,716.8 1278.2,718.3 1284.3,719.6 1290.4,719.0 1296.5,727.0 1302.6,720.0 1308.7,728.5 1314.8,725.3 1320.9,738.4 1327.0,733.8 1333.1,747.9" fill="none" stroke="#0000FF" stroke-width="2.2" stroke-linejoin="round" stroke-linecap="round"/>
<polyline points="216.1,778.6 222.2,783.9 228.3,784.5 234.4,783.5 240.5,777.1 246.6,771.8 252.7,766.6 258.8,765.1 264.9,766.6 271.0,768.7 277.1,770.8 283.2,762.7 289.3,760.6 295.4,762.7 301.5,764.4 307.6,762.3 313.7,760.8 319.8,762.7 325.9,766.1 332.0,767.0 338.1,768.3 344.2,767.0 350.3,765.1 356.4,765.9 362.6,767.6 368.7,769.7 374.8,768.7 380.9,758.1 387.0,759.2 393.1,754.9 399.2,757.0 405.3,750.7 411.4,753.9 417.5,752.2 423.6,748.6 429.7,741.6 435.8,745.0 441.9,753.9 448.0,761.3 454.1,757.7 460.2,754.9 466.3,750.0 472.4,757.0 478.5,756.0 484.6,757.7 490.7,753.9 496.8,754.9 502.9,760.6 509.1,766.1 515.2,769.7 521.3,772.9 527.4,777.8 533.5,779.7 539.6,781.4 545.7,778.8 551.8,779.7 557.9,777.1 564.0,770.8 570.1,766.6 576.2,769.1 582.3,774.6 588.4,780.3 594.5,780.7 600.6,778.8 606.7,775.0 612.8,772.9 618.9,771.4 625.0,773.3 631.1,775.0 637.2,775.0 643.3,771.8 649.4,769.7 655.6,768.3 661.7,769.7 667.8,768.0 673.9,767.6 680.0,763.4 686.1,760.6 692.2,754.3 698.3,753.9 704.4,754.9 710.5,756.6 716.6,758.1 722.7,750.7 728.8,754.5 734.9,761.3 741.0,767.0 747.1,768.7 753.2,765.9 759.3,768.7 765.4,765.9 771.5,767.0 777.6,764.4 783.7,766.6 789.8,765.2 795.9,770.0 802.1,766.1 808.2,764.0 814.3,762.7 820.4,763.8 826.5,765.9 832.6,763.8 838.7,767.6 844.8,763.8 850.9,765.1 857.0,759.2 863.1,756.0 869.2,754.9 875.3,756.0 881.4,760.8 887.5,759.6 893.6,761.7 899.7,755.6 905.8,754.5 911.9,752.8 918.0,754.5 924.1,749.6 930.2,752.2 936.3,753.9 942.4,758.7 948.6,762.7 954.7,760.6 960.8,754.9 966.9,751.3 973.0,747.5 979.1,744.3 985.2,734.8 991.3,735.9 997.4,737.6 1003.5,734.4 1009.6,730.0 1015.7,730.6 1021.8,741.2 1027.9,743.7 1034.0,735.9 1040.1,739.5 1046.2,732.1 1052.3,737.6 1058.4,730.2 1064.5,735.5 1070.6,728.9 1076.7,731.6 1082.8,736.4 1088.9,738.4 1095.1,741.6 1101.2,733.8 1107.3,736.9 1113.4,738.0 1119.5,736.9 1125.6,730.6 1131.7,716.8 1137.8,713.0 1143.9,714.3 1150.0,717.5 1156.1,721.1 1162.2,716.4 1168.3,720.0 1174.4,720.6 1180.5,722.6 1186.6,723.8 1192.7,719.0 1198.8,722.6 1204.9,718.5 1211.0,724.2 1217.1,719.6 1223.2,714.7 1229.3,709.4 1235.4,714.3 1241.6,716.2 1247.7,719.4 1253.8,729.5 1259.9,733.8 1266.0,735.2 1272.1,734.2 1278.2,732.1 1284.3,734.8 1290.4,732.7 1296.5,737.6 1302.6,742.9 1308.7,743.7 1314.8,742.9 1320.9,742.9 1327.0,741.2 1333.1,738.4" fill="none" stroke="#00FF00" stroke-width="2.2" stroke-linejoin="round" stroke-linecap="round"/>
<polyline points="216.1,797.7 222.2,795.8 228.3,793.6 234.4,791.9 240.5,793.6 246.6,791.9 252.7,791.9 258.8,789.4 264.9,791.5 271.0,793.0 277.1,794.1 283.2,793.2 289.3,792.8 295.4,792.4 301.5,790.3 307.6,788.1 313.7,786.2 319.8,784.1 325.9,786.7 332.0,786.7 338.1,788.8 344.2,786.0 350.3,788.8 356.4,791.3 362.6,793.6 368.7,787.7 374.8,784.5 380.9,783.1 387.0,783.5 393.1,787.7 399.2,784.5 405.3,785.6 411.4,783.9 417.5,786.0 423.6,786.2 429.7,786.2 435.8,785.0 441.9,783.9 448.0,785.6 454.1,784.5 460.2,784.5 466.3,787.7 472.4,785.2 478.5,785.2 484.6,782.8 490.7,782.4 496.8,783.5 502.9,786.7 509.1,788.1 515.2,788.8 521.3,787.7 527.4,787.1 533.5,786.2 539.6,786.2 545.7,787.1 551.8,786.2 557.9,785.2 564.0,785.0 570.1,784.1 576.2,787.1 582.3,786.0 588.4,789.2 594.5,790.9 600.6,793.0 606.7,794.1 612.8,795.1 618.9,796.2 625.0,796.6 631.1,796.6 637.2,797.2 643.3,797.7 649.4,797.7 655.6,796.2 661.7,794.7 667.8,792.6 673.9,794.1 680.0,793.6 686.1,796.2 692.2,795.5 698.3,794.5 704.4,794.1 710.5,793.6 716.6,796.6 722.7,795.5 728.8,795.8 734.9,793.0 741.0,793.6 747.1,793.6 753.2,795.5 759.3,794.5 765.4,793.0 771.5,790.9 777.6,793.4 783.7,795.8 789.8,797.5 795.9,799.9 802.1,797.9 808.2,796.2 814.3,795.5 820.4,794.1 826.5,793.0 832.6,791.9 838.7,794.5 844.8,794.7 850.9,796.2 857.0,794.5 863.1,793.6 869.2,793.4 875.3,794.1 881.4,793.6 887.5,791.5 893.6,790.9 899.7,790.3 905.8,792.4 911.9,794.1 918.0,795.8 924.1,794.1 930.2,792.6 936.3,792.6 942.4,794.1 948.6,793.4 954.7,793.4 960.8,791.3 966.9,790.5 973.0,788.8 979.1,787.3 985.2,786.2 991.3,786.2 997.4,788.8 1003.5,790.9 1009.6,791.5 1015.7,791.5 1021.8,791.5 1027.9,790.9 1034.0,790.3 1040.1,789.4 1046.2,791.3 1052.3,792.4 1058.4,793.0 1064.5,791.3 1070.6,791.9 1076.7,791.9 1082.8,794.1 1088.9,793.4 1095.1,793.0 1101.2,791.5 1107.3,792.6 1113.4,790.9 1119.5,789.4 1125.6,787.3 1131.7,786.2 1137.8,788.8 1143.9,786.2 1150.0,788.3 1156.1,786.2 1162.2,788.3 1168.3,788.8 1174.4,790.9 1180.5,791.9 1186.6,789.8 1192.7,788.8 1198.8,787.3 1204.9,790.3 1211.0,789.2 1217.1,788.8 1223.2,787.1 1229.3,788.8 1235.4,791.9 1241.6,795.5 1247.7,795.5 1253.8,794.7 1259.9,794.1 1266.0,794.1 1272.1,795.8 1278.2,797.2 1284.3,798.3 1290.4,797.2 1296.5,796.2 1302.6,796.2 1308.7,795.5 1314.8,795.5 1320.9,796.8 1327.0,797.7 1333.1,796.2" fill="none" stroke="#FF00FF" stroke-width="2.2" stroke-linejoin="round" stroke-linecap="round"/>
<line x1="213.5" y1="167" x2="213.5" y2="804" stroke="#444" stroke-width="1"/>
<line x1="203.2" y1="803.5" x2="1385.0" y2="803.5" stroke="#333" stroke-width="1"/>
<line x1="203.2" y1="167.5" x2="214" y2="167.5" stroke="#4a4a4a" stroke-width="1"/>
<line x1="203.2" y1="274" x2="214" y2="274" stroke="#7c7c7c" stroke-width="2"/>
<line x1="203.2" y1="379.5" x2="214" y2="379.5" stroke="#4a4a4a" stroke-width="1"/>
<line x1="203.2" y1="485.5" x2="214" y2="485.5" stroke="#4a4a4a" stroke-width="1"/>
<line x1="203.2" y1="591.5" x2="214" y2="591.5" stroke="#4a4a4a" stroke-width="1"/>
<line x1="203.2" y1="697.5" x2="214" y2="697.5" stroke="#4a4a4a" stroke-width="1"/>
<text transform="translate(179.2 179.2) scale(1 1.08)" text-anchor="end" font-family="Liberation Sans, sans-serif" font-size="28.6" font-weight="bold" fill="#000">600,000</text>
<text transform="translate(179.2 285.7) scale(1 1.08)" text-anchor="end" font-family="Liberation Sans, sans-serif" font-size="28.6" font-weight="bold" fill="#000">500,000</text>
<text transform="translate(179.2 391.2) scale(1 1.08)" text-anchor="end" font-family="Liberation Sans, sans-serif" font-size="28.6" font-weight="bold" fill="#000">400,000</text>
<text transform="translate(179.2 497.2) scale(1 1.08)" text-anchor="end" font-family="Liberation Sans, sans-serif" font-size="28.6" font-weight="bold" fill="#000">300,000</text>
<text transform="translate(179.2 603.2) scale(1 1.08)" text-anchor="end" font-family="Liberation Sans, sans-serif" font-size="28.6" font-weight="bold" fill="#000">200,000</text>
<text transform="translate(179.2 709.2) scale(1 1.08)" text-anchor="end" font-family="Liberation Sans, sans-serif" font-size="28.6" font-weight="bold" fill="#000">100,000</text>
<rect x="139.3" y="804.9" width="8.7" height="4" fill="#000"/>
<text transform="translate(46.2 481) rotate(-90) scale(1 1.03)" text-anchor="middle" font-family="Liberation Sans, sans-serif" font-size="33.4" font-weight="bold" fill="#000">Tons / Month. 3MMA</text>
<text transform="translate(249.6 931.6) scale(1 1.065)" text-anchor="middle" font-family="Liberation Sans, sans-serif" font-size="33.33" fill="#000">04</text>
<text transform="translate(322.9 931.6) scale(1 1.065)" text-anchor="middle" font-family="Liberation Sans, sans-serif" font-size="33.33" fill="#000">05</text>
<text transform="translate(396.1 931.6) scale(1 1.065)" text-anchor="middle" font-family="Liberation Sans, sans-serif" font-size="33.33" fill="#000">06</text>
<text transform="translate(469.4 931.6) scale(1 1.065)" text-anchor="middle" font-family="Liberation Sans, sans-serif" font-size="33.33" fill="#000">07</text>
<text transform="translate(542.6 931.6) scale(1 1.065)" text-anchor="middle" font-family="Liberation Sans, sans-serif" font-size="33.33" fill="#000">08</text>
<text transform="translate(615.9 931.6) scale(1 1.065)" text-anchor="middle" font-family="Liberation Sans, sans-serif" font-size="33.33" fill="#000">09</text>
<text transform="translate(689.1 931.6) scale(1 1.065)" text-anchor="middle" font-family="Liberation Sans, sans-serif" font-size="33.33" fill="#000">10</text>
<text transform="translate(762.4 931.6) scale(1 1.065)" text-anchor="middle" font-family="Liberation Sans, sans-serif" font-size="33.33" fill="#000">11</text>
<text transform="translate(835.6 931.6) scale(1 1.065)" text-anchor="middle" font-family="Liberation Sans, sans-serif" font-size="33.33" fill="#000">12</text>
<text transform="translate(908.9 931.6) scale(1 1.065)" text-anchor="middle" font-family="Liberation Sans, sans-serif" font-size="33.33" fill="#000">13</text>
<text transform="translate(982.1 931.6) scale(1 1.065)" text-anchor="middle" font-family="Liberation Sans, sans-serif" font-size="33.33" fill="#000">14</text>
<text transform="translate(1055.4 931.6) scale(1 1.065)" text-anchor="middle" font-family="Liberation Sans, sans-serif" font-size="33.33" fill="#000">15</text>
<text transform="translate(1128.6 931.6) scale(1 1.065)" text-anchor="middle" font-family="Liberation Sans, sans-serif" font-size="33.33" fill="#000">16</text>
<text transform="translate(1201.9 931.6) scale(1 1.065)" text-anchor="middle" font-family="Liberation Sans, sans-serif" font-size="33.33" fill="#000">17</text>
<text transform="translate(1275.1 931.6) scale(1 1.065)" text-anchor="middle" font-family="Liberation Sans, sans-serif" font-size="33.33" fill="#000">18</text>
<text transform="translate(1348.4 931.6) scale(1 1.065)" text-anchor="middle" font-family="Liberation Sans, sans-serif" font-size="33.33" fill="#000">19</text>
<text transform="translate(56.5 82.15) scale(1 1.022)" font-family="Liberation Sans, sans-serif" font-size="41.7" font-weight="bold" fill="#000">Fig 3</text>
<text x="748.0" y="74.4" text-anchor="middle" font-family="Liberation Sans, sans-serif" font-size="37.38" font-weight="bold" fill="#000">Imports of Sheet and Strip Products Through April 2019</text>
<text x="638.3" y="121.9" text-anchor="middle" font-family="Liberation Sans, sans-serif" font-size="37.15" font-weight="bold" fill="#000">3 month moving averages</text>
<text x="930.6" y="121.0" font-family="Liberation Sans, sans-serif" font-size="24.6" font-weight="bold" fill="#000">Source SIMA<tspan font-weight="normal" font-size="24">.</tspan></text>
<rect x="448.1" y="173.9" width="526.1" height="223" fill="#fff" stroke="#878787" stroke-width="1.7"/>
<line x1="479" y1="194.0" x2="520.4" y2="194.0" stroke="#000000" stroke-width="2.1" stroke-linecap="round"/>
<text transform="translate(525.4 202.2) scale(1 1.08)" font-family="Liberation Sans, sans-serif" font-size="22.3" fill="#000">Hot Dipped Galv Sheets &amp; Strip</text>
<line x1="479" y1="231.0" x2="520.4" y2="231.0" stroke="#FFC000" stroke-width="2.1" stroke-linecap="round"/>
<text transform="translate(531.6 239.2) scale(1 1.08)" font-family="Liberation Sans, sans-serif" font-size="22.3" fill="#000">HR sheet and strip</text>
<line x1="479" y1="268.0" x2="520.4" y2="268.0" stroke="#FF0000" stroke-width="2.1" stroke-linecap="round"/>
<text transform="translate(531.6 276.2) scale(1 1.08)" font-family="Liberation Sans, sans-serif" font-size="22.3" fill="#000">CR sheet and strip</text>
<line x1="479" y1="305.0" x2="520.4" y2="305.0" stroke="#0000FF" stroke-width="2.1" stroke-linecap="round"/>
<text transform="translate(525.4 313.2) scale(1 1.08)" font-family="Liberation Sans, sans-serif" font-size="22.3" fill="#000">All Other Metallic Coated Sheets and Strip</text>
<line x1="479" y1="342.0" x2="520.4" y2="342.0" stroke="#00FF00" stroke-width="2.1" stroke-linecap="round"/>
<text transform="translate(525.4 350.2) scale(1 1.08)" font-family="Liberation Sans, sans-serif" font-size="22.3" fill="#000">Tin plate</text>
<line x1="479" y1="379.0" x2="520.4" y2="379.0" stroke="#FF00FF" stroke-width="2.1" stroke-linecap="round"/>
<text transform="translate(525.4 387.2) scale(1 1.08)" font-family="Liberation Sans, sans-serif" font-size="22.3" fill="#000">Electrolytic Galv Sheets &amp; Strip</text>
<defs><linearGradient id="cg" x1="0" y1="0" x2="0" y2="1"><stop offset="0" stop-color="#fbb040"/><stop offset="0.45" stop-color="#f15a29"/><stop offset="1" stop-color="#b5121b"/></linearGradient><linearGradient id="tg" x1="0" y1="0" x2="0" y2="1"><stop offset="0" stop-color="#2a5aa8"/><stop offset="1" stop-color="#1b2f78"/></linearGradient></defs>
<path d="M1161.6 198.6 A28.3 25.4 0 1 1 1161.6 230.3 A23.6 20 0 1 0 1161.6 198.6 Z" fill="url(#cg)"/>
<rect x="1193" y="208.8" width="21" height="13.4" fill="#fff"/>
<text x="1138.6" y="219.4" font-family="Liberation Sans, sans-serif" font-size="14" font-weight="bold" fill="#1d3f8f" stroke="#1d3f8f" stroke-width="0.7" textLength="53.5" lengthAdjust="spacingAndGlyphs">STEEL</text>
<text x="1198.6" y="219.4" font-family="Liberation Sans, sans-serif" font-size="14" fill="#1f3f8c" stroke="#1f3f8c" stroke-width="0.45" textLength="66" lengthAdjust="spacingAndGlyphs">MARKET</text>
<text x="1270.5" y="219.4" font-family="Liberation Sans, sans-serif" font-size="14" fill="#3a529c" textLength="59" lengthAdjust="spacingAndGlyphs">UPDATE</text>
</svg></body></html>
